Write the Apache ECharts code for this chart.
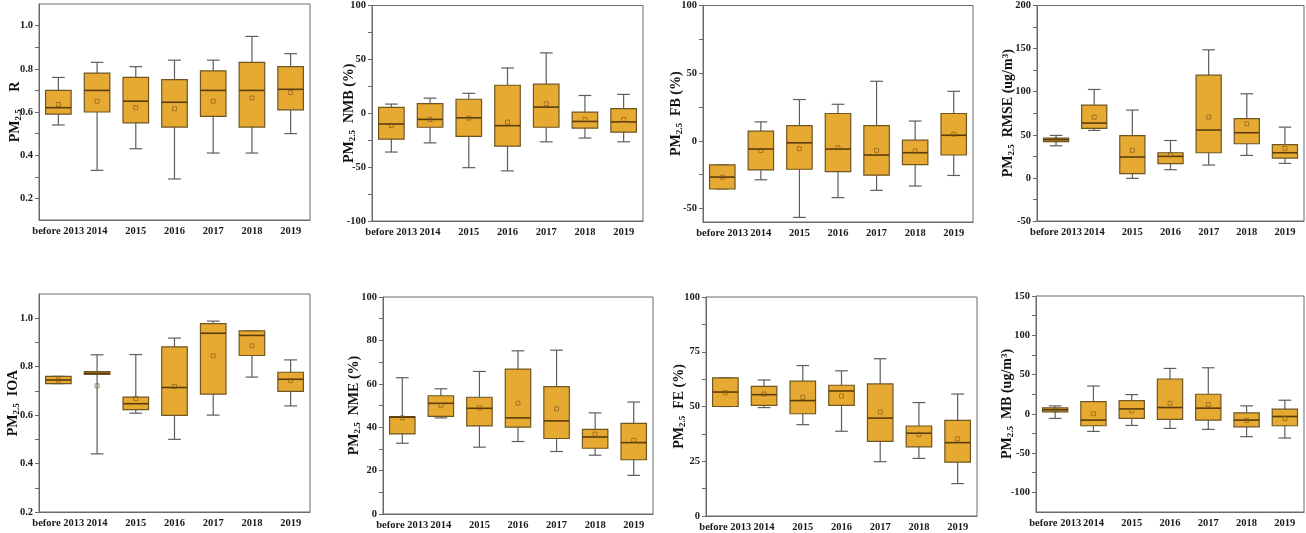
<!DOCTYPE html>
<html>
<head>
<meta charset="utf-8">
<script src="https://cdn.jsdelivr.net/npm/echarts@6/dist/echarts.min.js"></script>
<style>
html, body { margin: 0; padding: 0; background: #fff; }
#chart { width: 1306px; height: 533px; }
</style>
</head>
<body>
<div id="chart"></div>
<script>
var years = ['before 2013', '2014', '2015', '2016', '2017', '2018', '2019'];

// each box: [min, Q1, median, Q3, max]
var rBox = [[0.54, 0.59, 0.62, 0.70, 0.76], [0.33, 0.60, 0.70, 0.78, 0.83], [0.43, 0.55, 0.65, 0.76, 0.81], [0.29, 0.53, 0.645, 0.75, 0.84],
	[0.41, 0.58, 0.70, 0.79, 0.84], [0.41, 0.53, 0.70, 0.83, 0.95], [0.50, 0.61, 0.705, 0.81, 0.87]];
var rMean = [0.635, 0.65, 0.62, 0.615, 0.65, 0.665, 0.69];

var nmbBox = [[-36, -24, -10, 5.5, 8.5], [-27.5, -13, -5.7, 9, 14], [-50.5, -21.5, -4.2, 13, 18.5], [-53.5, -30.5, -11.5, 26, 42],
	[-26.5, -13, 5.7, 27, 56], [-23, -13.8, -7.6, 1, 16.5], [-26.5, -17.5, -8, 4.2, 17.5]];
var nmbMean = [-11.3, -5.7, -4.5, -8.2, 8.8, -5.7, -5.7];

var fbBox = [[-35.6, -35.6, -26.8, -17.8, -17.8], [-28.8, -21.5, -6.1, 7.1, 14], [-56.6, -21, -1.5, 11.2, 30.5], [-42, -22.7, -6.1, 20.2, 27],
	[-36.6, -25.4, -10.5, 11.2, 44], [-33.4, -17.6, -8.8, 0.5, 14.6], [-25.6, -10.5, 4.1, 20.2, 36.6]];
var fbMean = [-26.8, -7.1, -5.9, -5.1, -7.1, -7.6, 4.9];

var rmseBox = [[37.3, 42, 44.3, 46.2, 49.3], [55.1, 57.4, 63.6, 84.5, 102.6], [-0.5, 4.9, 24.2, 49, 78.7], [9.5, 16.5, 25, 29.2, 43.4],
	[14.9, 29.2, 55.5, 119.2, 148.6], [26.1, 39.6, 52.4, 68.7, 97.6], [16.8, 23, 29.2, 38.5, 58.9]];
var rmseMean = [44.3, 70.5, 32, 26.9, 70.5, 62.8, 34.2];

var ioaBox = [[0.73, 0.73, 0.745, 0.76, 0.76], [0.44, 0.768, 0.773, 0.78, 0.849], [0.608, 0.623, 0.647, 0.674, 0.85], [0.50, 0.599, 0.714, 0.882, 0.918],
	[0.60, 0.687, 0.938, 0.978, 0.988], [0.757, 0.846, 0.929, 0.948, 0.948], [0.638, 0.698, 0.748, 0.777, 0.828]];
var ioaMean = [0.745, 0.721, 0.669, 0.718, 0.845, 0.886, 0.743];

var nmeBox = [[32.6, 36.9, 44.6, 44.9, 62.8], [44.3, 45, 51, 54.5, 57.7], [30.8, 40.6, 48.7, 53.8, 65.7], [33.4, 40, 44.3, 66.8, 75.2],
	[28.8, 34.8, 42.9, 58.7, 75.5], [27.1, 30.3, 35.5, 39, 46.6], [17.8, 25, 32.9, 41.8, 51.6]];
var nmeMean = [44.3, 50.1, 48.9, 51.1, 48.4, 36.8, 34];

var feBox = [[50, 50, 56.6, 63.1, 63.1], [49.5, 50.5, 55.4, 59.2, 62.1], [41.7, 46.7, 52.7, 61.6, 68.7], [38.7, 50.5, 57.1, 59.7, 66.3],
	[24.8, 34.1, 44.7, 60.3, 71.8], [26.3, 31.6, 37.8, 41.1, 51.8], [14.8, 24.6, 33.5, 43.7, 55.7]];
var feMean = [56.3, 55.7, 54.2, 54.8, 47.4, 37.3, 35.2];

var mbBox = [[-5.9, 2.5, 5.1, 7.6, 10.1], [-22.4, -15.2, -8, 15.6, 35.4], [-14.8, -5.9, 6.3, 16.9, 24.5], [-18.6, -7.2, 8, 44.3, 57.8],
	[-19.8, -8, 7.2, 24.9, 58.6], [-29.1, -16.5, -8, 1.3, 10.1], [-30.8, -15.2, -3.4, 5.9, 17.3]];
var mbMean = [5, 0, 3.8, 13.5, 11.8, -8.4, -5.9];

// tick labels and tick marks of each y axis
var rLabels = [0.2, 0.4, 0.6, 0.8, 1.0];
var rTicks = [0.2, 0.3, 0.4, 0.5, 0.6, 0.7, 0.8, 0.9, 1.0];
var pctLabels = [-100, -50, 0, 50, 100];
var pctTicks = [-100, -75, -50, -25, 0, 25, 50, 75, 100];
var fbLabels = [-50, 0, 50, 100];
var fbTicks = [-50, -25, 0, 25, 50, 75, 100];
var rmseLabels = [-50, 0, 50, 100, 150, 200];
var rmseTicks = [-50, -25, 0, 25, 50, 75, 100, 125, 150, 175, 200];
var ioaLabels = [0.2, 0.4, 0.6, 0.8, 1.0];
var ioaTicks = [0.2, 0.3, 0.4, 0.5, 0.6, 0.7, 0.8, 0.9, 1.0];
var nmeLabels = [0, 20, 40, 60, 80, 100];
var nmeTicks = [0, 10, 20, 30, 40, 50, 60, 70, 80, 90, 100];
var feLabels = [0, 25, 50, 75, 100];
var feTicks = [0, 12.5, 25, 37.5, 50, 62.5, 75, 87.5, 100];
var mbLabels = [-100, -50, 0, 50, 100, 150];
var mbTicks = [-100, -75, -50, -25, 0, 25, 50, 75, 100, 125, 150];

var serif = 'Liberation Serif';
var boxFill = '#E6AA33';
var boxEdge = '#6e5522';
var whiskerColor = '#5e5e5e';
var medianColor = '#5a3c0a';
var axisColor = '#6a6a6a';

var panels = [
	{ box: rBox, mean: rMean, min: 0.1, max: 1.1, labels: rLabels, ticks: rTicks, digits: 1, name: '{b|PM}{s|2.5}{b|     R}', gap: 24,
		grid: { left: 39, top: 4, width: 271, height: 216 } },
	{ box: nmbBox, mean: nmbMean, min: -100, max: 100, labels: pctLabels, ticks: pctTicks, digits: 0, name: '{b|PM}{s|2.5}{b|  NMB (%)}', gap: 23,
		grid: { left: 372, top: 5, width: 271, height: 216 } },
	{ box: fbBox, mean: fbMean, min: -60, max: 100, labels: fbLabels, ticks: fbTicks, digits: 0, name: '{b|PM}{s|2.5}{b|  FB (%)}', gap: 27,
		grid: { left: 703, top: 5, width: 270, height: 217 } },
	{ box: rmseBox, mean: rmseMean, min: -50, max: 200, labels: rmseLabels, ticks: rmseTicks, digits: 0, name: '{b|PM}{s|2.5}{b|  RMSE (ug/m}{p|3}{b|)}', gap: 29,
		grid: { left: 1037, top: 5, width: 267, height: 216 } },
	{ box: ioaBox, mean: ioaMean, min: 0.2, max: 1.1, labels: ioaLabels, ticks: ioaTicks, digits: 1, name: '{b|PM}{s|2.5}{b|  IOA}', gap: 26,
		grid: { left: 39, top: 294, width: 271, height: 218 } },
	{ box: nmeBox, mean: nmeMean, min: 0, max: 100, labels: nmeLabels, ticks: nmeTicks, digits: 0, name: '{b|PM}{s|2.5}{b|  NME (%)}', gap: 29,
		grid: { left: 383, top: 297, width: 270, height: 217 } },
	{ box: feBox, mean: feMean, min: 0, max: 100, labels: feLabels, ticks: feTicks, digits: 0, name: '{b|PM}{s|2.5}{b|  FE (%)}', gap: 27,
		grid: { left: 706, top: 297, width: 271, height: 220 } },
	{ box: mbBox, mean: mbMean, min: -125, max: 150, labels: mbLabels, ticks: mbTicks, digits: 0, name: '{b|PM}{s|2.5}{b|  MB (ug/m}{p|3}{b|)}', gap: 29,
		grid: { left: 1036, top: 296, width: 268, height: 216 } }
];

//画箱体、须线、中位线
function renderBox(params, api) {
	var x = api.value(0);
	var pMin = api.coord([x, api.value(1)]);
	var pQ1 = api.coord([x, api.value(2)]);
	var pMed = api.coord([x, api.value(3)]);
	var pQ3 = api.coord([x, api.value(4)]);
	var pMax = api.coord([x, api.value(5)]);
	var band = api.size([1, 0])[0];
	var hw = band * 0.33;
	var cw = hw * 0.5;
	var cx = pMed[0];
	var wStyle = { stroke: whiskerColor, lineWidth: 1.2 };
	return {
		type: 'group',
		children: [
			{ type: 'line', shape: { x1: cx, y1: pQ3[1], x2: cx, y2: pMax[1] }, style: wStyle },
			{ type: 'line', shape: { x1: cx, y1: pQ1[1], x2: cx, y2: pMin[1] }, style: wStyle },
			{ type: 'line', shape: { x1: cx - cw, y1: pMax[1], x2: cx + cw, y2: pMax[1] }, style: wStyle },
			{ type: 'line', shape: { x1: cx - cw, y1: pMin[1], x2: cx + cw, y2: pMin[1] }, style: wStyle },
			{ type: 'rect', shape: { x: cx - hw, y: pQ3[1], width: hw * 2, height: pQ1[1] - pQ3[1] },
				style: { fill: boxFill, stroke: boxEdge, lineWidth: 1.2 } },
			{ type: 'line', shape: { x1: cx - hw, y1: pMed[1], x2: cx + hw, y2: pMed[1] },
				style: { stroke: medianColor, lineWidth: 1.6 } }
		]
	};
}

var option = {
	backgroundColor: '#fff',
	animation: false,
	grid: [],
	xAxis: [],
	yAxis: [],
	series: []
};

for (var i = 0; i < panels.length; i++) {
	var p = panels[i];
	var g = p.grid;
	option.grid.push({
		left: g.left, top: g.top, width: g.width, height: g.height,
		show: true, borderColor: axisColor, borderWidth: 1, backgroundColor: 'transparent'
	});
	option.xAxis.push({
		type: 'category',
		gridIndex: i,
		data: years,
		boundaryGap: true,
		axisLine: { onZero: false, lineStyle: { color: axisColor, width: 1 } },
		axisTick: { alignWithLabel: true, length: 4, lineStyle: { color: axisColor } },
		axisLabel: { interval: 0, margin: 6, color: '#1a1a1a', fontFamily: serif, fontWeight: 'bold', fontSize: 10.5 },
		splitLine: { show: false }
	});
	(function(digits) {
		option.yAxis.push({
			type: 'value',
			gridIndex: i,
			min: p.min,
			max: p.max,
			name: p.name,
			nameLocation: 'middle',
			nameRotate: 90,
			nameGap: p.gap,
			nameMoveOverlap: false,
			nameTextStyle: {
				fontFamily: serif, fontWeight: 'bold', fontSize: 14, color: '#111',
				align: 'center', verticalAlign: 'middle',
				rich: {
					b: { fontFamily: serif, fontWeight: 'bold', fontSize: 14, color: '#111', lineHeight: 18, verticalAlign: 'middle' },
					s: { fontFamily: serif, fontWeight: 'bold', fontSize: 9, color: '#111', lineHeight: 18, verticalAlign: 'bottom', padding: [0, 0, 1, 0] },
					p: { fontFamily: serif, fontWeight: 'bold', fontSize: 9, color: '#111', lineHeight: 18, verticalAlign: 'top', padding: [2, 0, 0, 0] }
				}
			},
			axisLine: { show: true, onZero: false, lineStyle: { color: axisColor, width: 1 } },
			axisTick: { show: true, length: 4, customValues: p.ticks, lineStyle: { color: axisColor } },
			axisLabel: {
				customValues: p.labels,
				margin: 6,
				color: '#1a1a1a', fontFamily: serif, fontWeight: 'bold', fontSize: 10.5,
				formatter: function(v) { return Number(v).toFixed(digits); }
			},
			splitLine: { show: false }
		});
	})(p.digits);

	var boxData = [];
	var meanData = [];
	for (var k = 0; k < years.length; k++) {
		boxData.push([k].concat(p.box[k]));
		meanData.push([k, p.mean[k]]);
	}
	option.series.push({
		type: 'custom',
		xAxisIndex: i,
		yAxisIndex: i,
		renderItem: renderBox,
		encode: { x: 0, y: [1, 2, 3, 4, 5] },
		data: boxData,
		z: 2
	});
	option.series.push({
		type: 'scatter',
		xAxisIndex: i,
		yAxisIndex: i,
		symbol: 'rect',
		symbolSize: 4,
		itemStyle: { color: 'transparent', borderColor: '#7a5514', borderWidth: 0.8 },
		data: meanData,
		z: 3
	});
}

var charts = echarts.init(document.getElementById('chart'));
charts.setOption(option);
</script>
</body>
</html>
